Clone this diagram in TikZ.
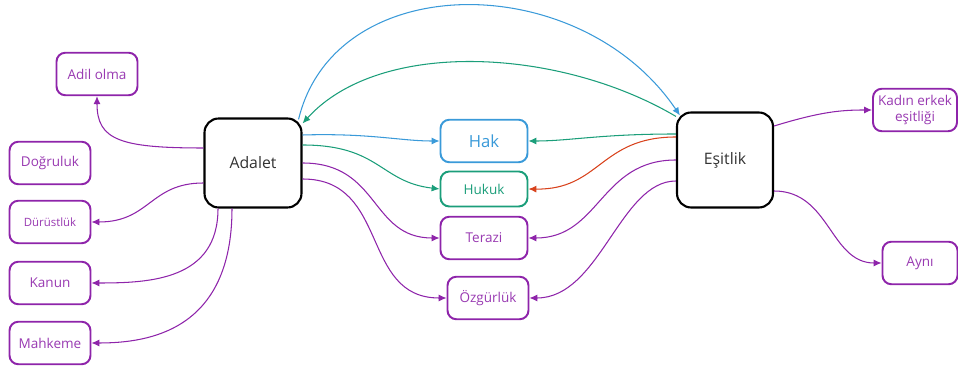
\documentclass[tikz,border=0pt]{standalone}
\usepackage{fontspec}
\setmainfont{Open Sans}
\usepackage{xcolor}
\usetikzlibrary{calc}
\usetikzlibrary{positioning, arrows.meta}

\definecolor{hakblue}{HTML}{3A9AD9}
\definecolor{hukgreen}{HTML}{1B9E7A}
\definecolor{redline}{HTML}{D8421C}
\definecolor{mor}{HTML}{8E24AA}

\begin{document}
\begin{tikzpicture}[
		x=0.02cm, y=-0.02cm,
		% Styles
		mainbox/.style={rectangle, draw=black, line width=1.2pt, fill=white, rounded corners=8pt, minimum width=1.94cm, minimum height=1.78cm, text=black!80, font=\fontsize{9}{11}\selectfont},
		leaf/.style={rectangle, draw=mor, line width=1.1pt, fill=white, rounded corners=5pt, minimum width=1.62cm, minimum height=0.85cm, text=mor!90, font=\fontsize{7.7}{9.5}\selectfont, align=center, inner sep=1pt},
		arrow/.style={-{Latex[length=4.5pt, width=4pt]}, line width=0.6pt}
	]
	\useasboundingbox (0,0) rectangle (958,367);

	% --- Main nodes ---
	\node[mainbox] (adalet) at (253,163) {Adalet};
	\node[mainbox, minimum width=1.92cm, minimum height=1.9cm] (esitlik) at (725,160) {Eşitlik};

	% --- Middle column ---
	\node[leaf, draw=hakblue, text=hakblue, minimum width=1.74cm, font=\fontsize{9.5}{11}\selectfont] (hak) at (484,141) {Hak};
	\node[leaf, draw=hukgreen, text=hukgreen, minimum width=1.74cm, minimum height=0.7cm] (hukuk) at (484,189) {Hukuk};
	\node[leaf, minimum width=1.74cm] (terazi) at (484,238) {Terazi};
	\node[leaf] (ozgurluk) at (488,298) {Özgürlük};

	% --- Left column ---
	\node[leaf] (adil) at (97,74) {Adil olma};
	\node[leaf] (dogruluk) at (50,163) {Doğruluk};
	\node[leaf, font=\fontsize{6.5}{8}\selectfont] (durustluk) at (50,222) {Dürüstlük};
	\node[leaf] (kanun) at (50,283) {Kanun};
	\node[leaf] (mahkeme) at (50,343) {Mahkeme};

	% --- Right column ---
	\node[leaf, minimum width=1.68cm] (kadin) at (915,110) {Kadın erkek\\eşitliği};
	\node[leaf, minimum width=1.5cm] (ayni) at (920,263) {Aynı};

	% --- ARROWS ---
	% Big arcs between the two main nodes
	\draw[arrow, hakblue] ($(adalet.north east)+(-4,2)$) .. controls (335,-32) and (580,-32) .. ($(esitlik.north west)+(4,4)$);
	\draw[arrow, hukgreen] ($(esitlik.north west)+(0,5)$) .. controls (560,48) and (380,38) .. ($(adalet.north east)+(0,6)$);

	% Adalet to the middle column
	\draw[arrow, hakblue] ($(adalet.east)+(0,-28)$) .. controls (370,133) and (400,141) .. (hak.west);
	\draw[arrow, hukgreen] ($(adalet.east)+(0,-18)$) .. controls (380,145) and (380,182) .. (hukuk.west);
	\draw[arrow, mor] ($(adalet.east)+(0,0)$) .. controls (380,163) and (370,238) .. (terazi.west);
	\draw[arrow, mor] ($(adalet.east)+(0,16)$) .. controls (390,179) and (360,298) .. (ozgurluk.west);

	% Esitlik to the middle column
	\draw[arrow, hukgreen] ($(esitlik.west)+(0,-26)$) .. controls (600,134) and (570,141) .. (hak.east);
	\draw[arrow, redline] ($(esitlik.west)+(0,-23)$) .. controls (600,137) and (600,190) .. (hukuk.east);
	\draw[arrow, mor] ($(esitlik.west)+(0,0)$) .. controls (600,160) and (600,238) .. (terazi.east);
	\draw[arrow, mor] ($(esitlik.west)+(0,21)$) .. controls (620,181) and (600,298) .. (ozgurluk.east);

	% Adalet to the left column
	\draw[arrow, mor] ($(adalet.west)+(0,-15)$) .. controls (120,148) and (97,140) .. (adil.south);
	\draw[arrow, mor] ($(adalet.west)+(0,20)$) .. controls (150,183) and (150,222) .. (durustluk.east);
	\draw[arrow, mor] ($(adalet.south)+(-35,0)$) .. controls (218,280) and (150,283) .. (kanun.east);
	\draw[arrow, mor] ($(adalet.south)+(-21,0)$) .. controls (232,330) and (150,343) .. (mahkeme.east);

	% Esitlik to the right column
	\draw[arrow, mor] ($(esitlik.east)+(0,-34)$) .. controls (820,112) and (840,110) .. (kadin.west);
	\draw[arrow, mor] ($(esitlik.east)+(0,31)$) .. controls (830,191) and (830,263) .. (ayni.west);

\end{tikzpicture}
\end{document}
